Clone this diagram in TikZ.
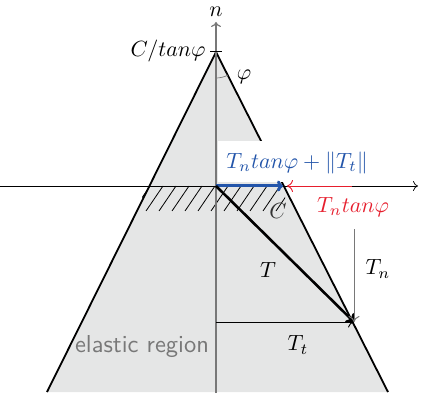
\documentclass[tikz,border=0pt]{standalone}
\usetikzlibrary{arrows.meta}
\definecolor{regiongray}{RGB}{229,230,230}
\definecolor{axisgray}{RGB}{120,120,120}
\definecolor{myblue}{RGB}{35,85,170}
\definecolor{myred}{RGB}{230,30,45}
\definecolor{labelgray}{RGB}{120,120,120}
\begin{document}
\begin{tikzpicture}[x=1pt,y=-1pt,
  lbl/.style={inner sep=0pt,scale=2.2},
  edge/.style={line width=1.8pt,black},
  thinarrow/.style={line width=0.9pt,-{To[length=6pt,width=11pt]}}]
\useasboundingbox (0,0) rectangle (430,395);
% coordinates
\coordinate (apex) at (216,52);
\coordinate (bl) at (47,392);
\coordinate (br) at (388,392);
\coordinate (o) at (216,186);
\coordinate (c) at (287,186);
\coordinate (tip) at (354,322);
% region
\fill[regiongray] (apex) -- (bl) -- (br) -- cycle;
% hatching
\begin{scope}
\clip (142,186) rectangle (285,211);
\foreach \x in {120,133,...,300}
  \draw[line width=0.8pt] (\x,211) -- (\x+17,186);
\end{scope}
% edges
\draw[edge] (bl) -- (apex) -- (br);
% axes
\draw[axisgray,line width=1.2pt,-{To[length=5pt,width=10pt]}] (216,393) -- (216,22);
\draw[line width=0.7pt,-{To[length=5pt,width=10pt]}] (0,186) -- (418,186);
\draw[line width=1pt] (210,52) -- (222,52);
% phi arc
\draw[axisgray,line width=0.7pt] (216,78) arc[start angle=90,end angle=63.2,radius=26];
% blue label with white box
\fill[white] (218,141) rectangle (373,182);
\node[lbl,myblue] (sum) at (297,163) {$T_n tan\varphi + \|T_t\|$};
% red arrow
\coordinate (redstart) at (352,186);
\draw[myred,line width=0.9pt,-{To[length=6pt,width=12pt]}] (redstart) -- (c);
\node[lbl,myred] (tnt) at (353,207) {$T_n tan\varphi$};
% blue arrow
\draw[myblue,line width=3pt,-{To[length=6pt,width=11pt]}] (o) -- (283,186);
% T arrow
\draw[line width=2.6pt,-{To[length=7pt,width=13pt]}] (o) -- (tip);
% Tt
\coordinate (tt0) at (216,322);
\draw[thinarrow] (tt0) -- (tip);
% Tn
\coordinate (tn0) at (354,229);
\draw[axisgray,line width=1pt,-{To[length=6pt,width=11pt]}] (tn0) -- (tip);
% labels
\node[lbl] (n) at (216,12) {$n$};
\node[lbl,anchor=east] (ctan) at (206,51) {$C/tan\varphi$};
\node[lbl] (phi) at (244,77) {$\varphi$};
\node[lbl,black!80] (C) at (278,211) {$C$};
\node[lbl] (Tn) at (378,269) {$T_n$};
\node[lbl] (T) at (268,270) {$T$};
\node[lbl] (Tt) at (298,345) {$T_t$};
\node[inner sep=0pt,scale=2.45,labelgray,font=\sffamily] (el) at (142,347) {elastic region};
\end{tikzpicture}
\end{document}
